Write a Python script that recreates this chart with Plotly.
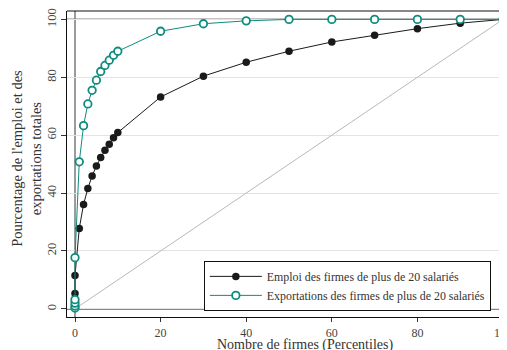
import plotly.graph_objects as go

# Data
emploi_x = [0, 0, 1, 2, 3, 4, 5, 6, 7, 8, 9, 10, 20, 30, 40, 50, 60, 70, 80, 90, 100]
emploi_y = [5.3, 11.5, 27.8, 36.1, 41.6, 45.9, 49.4, 52.3, 54.8, 56.9, 59.1, 60.9,
            73.2, 80.4, 85.2, 89.0, 92.2, 94.5, 96.8, 98.7, 100]
export_x = [0, 0, 0, 0, 0, 1, 2, 3, 4, 5, 6, 7, 8, 9, 10, 20, 30, 40, 50, 60, 70, 80, 90, 100]
export_y = [0.3, 1.0, 2.0, 3.2, 17.7, 50.8, 63.3, 70.8, 75.5, 79.0, 82.0, 84.1, 85.9, 87.6, 89.0,
            95.9, 98.5, 99.5, 100, 100, 100, 100, 100, 100]
diag_x = [0, 100]
diag_y = [0, 100]
x_ticks = [0, 20, 40, 60, 80, 100]
y_ticks = [0, 20, 40, 60, 80, 100]

FONT = "Liberation Serif"
TEAL = "#0e8c7e"

fig = go.Figure()
fig.add_trace(go.Scatter(x=diag_x, y=diag_y, mode="lines",
                         line=dict(color="#b8b8b8", width=1), showlegend=False, hoverinfo="skip"))
fig.add_trace(go.Scatter(x=emploi_x, y=emploi_y, mode="lines+markers",
                         name="Emploi des firmes de plus de 20 salariés",
                         line=dict(color="#1a1a1a", width=1),
                         marker=dict(color="#1a1a1a", size=7.5, symbol="circle")))
fig.add_trace(go.Scatter(x=export_x, y=export_y, mode="lines+markers",
                         name="Exportations des firmes de plus de 20 salariés",
                         line=dict(color=TEAL, width=1),
                         marker=dict(color="white", size=7.5, symbol="circle",
                                     line=dict(color=TEAL, width=1.8))))

# reference lines
fig.add_shape(type="line", xref="paper", yref="y", x0=0, x1=1, y0=100, y1=100,
              line=dict(color="#111111", width=1.2), layer="between")
fig.add_shape(type="line", xref="paper", yref="y", x0=0, x1=1, y0=0, y1=0,
              line=dict(color="#111111", width=1.2), layer="between")
fig.add_shape(type="line", xref="x", yref="paper", x0=0, x1=0, y0=0, y1=1,
              line=dict(color="#7a7a7a", width=1.5), layer="between")
fig.add_shape(type="line", xref="x", yref="paper", x0=100, x1=100, y0=0, y1=1,
              line=dict(color="#7a7a7a", width=1.5), layer="between")
# top frame
fig.add_shape(type="line", xref="paper", yref="paper", x0=0, x1=1, y0=1, y1=1,
              line=dict(color="#111111", width=1.2))

# axis titles
fig.add_annotation(text="Pourcentage de l'emploi et des<br>exportations totales",
                   xref="paper", yref="paper", x=-0.091, y=0.52, textangle=-90,
                   showarrow=False, xanchor="center", yanchor="middle",
                   font=dict(family=FONT, size=14.5, color="#333333"))
fig.add_annotation(text="Nombre de firmes (Percentiles)",
                   xref="paper", yref="paper", x=0.541, y=-0.09,
                   showarrow=False, xanchor="center", yanchor="middle",
                   font=dict(family=FONT, size=14, color="#333333"))

# page body has an 8px default margin, so the figure is sized to fit the window
fig.update_layout(
    width=499, height=342,
    margin=dict(l=59, r=0, t=3, b=33),
    plot_bgcolor="white", paper_bgcolor="white",
    font=dict(family=FONT, size=12, color="#333333"),
    showlegend=True,
    legend=dict(x=0.311, y=0.02, xanchor="left", yanchor="bottom",
                bgcolor="white", bordercolor="#111111", borderwidth=1,
                font=dict(family=FONT, size=11.9, color="#333333"),
                tracegroupgap=0, itemwidth=52),
)
fig.update_xaxes(range=[-1.87, 100.93], tickvals=x_ticks, ticks="outside", ticklen=4,
                 tickcolor="#333333", showgrid=False, zeroline=False, automargin=False,
                 showline=True, linecolor="#111111", linewidth=1.2,
                 ticklabeloverflow="allow",
                 tickfont=dict(family=FONT, size=12, color="#444444"))
fig.update_yaxes(range=[-2.8, 102.9], tickvals=y_ticks, ticks="outside", ticklen=5,
                 tickcolor="#333333", tickangle=-90, automargin=False,
                 showgrid=True, gridcolor="#e3e3e3", gridwidth=1, zeroline=False,
                 showline=True, linecolor="#111111", linewidth=1.2,
                 tickfont=dict(family=FONT, size=12.5, color="#444444"))

fig.write_html("out.html")
